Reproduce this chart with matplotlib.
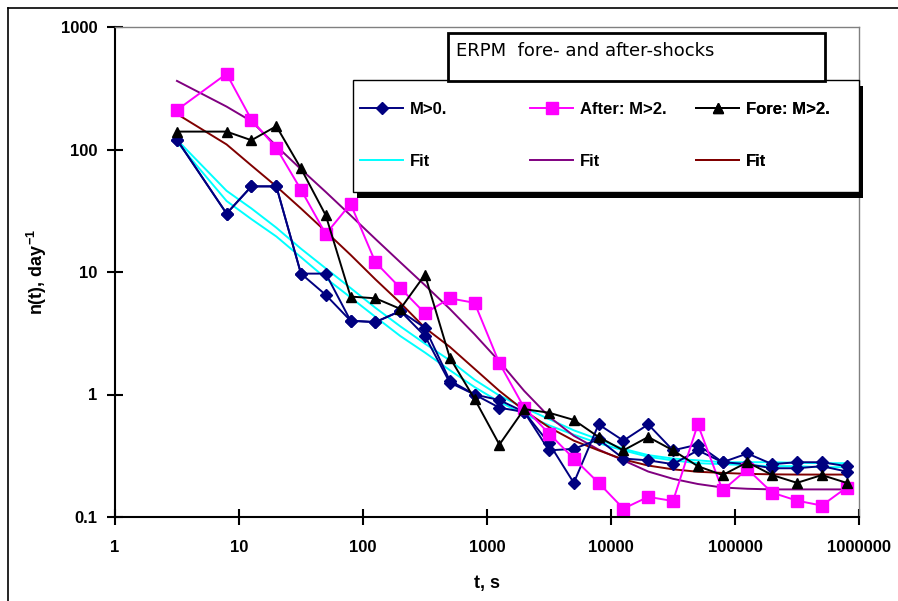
import matplotlib
matplotlib.use("Agg")
import matplotlib.pyplot as plt
from matplotlib.lines import Line2D
from matplotlib.patches import Rectangle
from matplotlib.ticker import FixedLocator, FixedFormatter, NullLocator

plt.rcParams["font.family"] = ["Liberation Sans", "DejaVu Sans"]
plt.rcParams["mathtext.default"] = "regular"

# time bins, s
t = [3.16, 7.94, 12.6, 20.0, 31.6, 50.1, 79.4, 126, 200, 316, 501, 794, 1259, 1995,
     3162, 5012, 7943, 12589, 19953, 31623, 50119, 79433, 125893, 199526, 316228,
     501187, 794328]

# M>0. (two catalogue runs drawn with the same style)
m0_a = [120, 30, 50, 50, 9.7, 9.7, 4.0, 3.9, 4.8, 3.5, 1.3, 1.0, 0.9, 0.72,
        0.40, 0.19, 0.57, 0.42, 0.57, 0.35, 0.39, 0.28, 0.33, 0.27, 0.28, 0.28, 0.26]
m0_b = [120, 30, 50, 50, 9.7, 6.5, 4.0, 3.9, 4.8, 3.0, 1.25, 1.0, 0.78, 0.72,
        0.35, 0.36, 0.43, 0.30, 0.29, 0.27, 0.35, 0.28, 0.27, 0.25, 0.25, 0.26, 0.235]
after = [210, 415, 175, 103, 47, 20.4, 36, 12, 7.4, 4.6, 6.1, 5.6, 1.8, 0.78,
         0.48, 0.30, 0.19, 0.117, 0.146, 0.135, 0.57, 0.165, 0.246, 0.158, 0.136, 0.124, 0.174]
fore = [140, 140, 119, 155, 70, 29, 6.3, 6.1, 5.0, 9.5, 2.0, 0.92, 0.39, 0.76,
        0.71, 0.62, 0.45, 0.35, 0.45, 0.35, 0.26, 0.22, 0.28, 0.22, 0.19, 0.22, 0.19]

# fits
fit_m0_a = [120, 46, 33, 23, 15.5, 10.7, 7.4, 5.1, 3.6, 2.6, 1.9, 1.32, 0.98, 0.78,
            0.63, 0.51, 0.43, 0.36, 0.32, 0.30, 0.29, 0.28, 0.28, 0.28, 0.277, 0.275, 0.275]
fit_m0_b = [115, 38, 27, 19.5, 13.2, 8.9, 6.2, 4.3, 3.0, 2.2, 1.58, 1.15, 0.87, 0.69,
            0.56, 0.47, 0.40, 0.35, 0.31, 0.29, 0.275, 0.27, 0.265, 0.26, 0.26, 0.255, 0.255]
fit_after = [363, 224, 170, 107, 69, 45, 29, 18.6, 12.0, 7.8, 5.0, 3.1, 1.86, 1.07,
             0.66, 0.46, 0.355, 0.29, 0.235, 0.205, 0.186, 0.174, 0.17, 0.168, 0.168, 0.168, 0.168]
fit_fore = [195, 110, 74, 50, 33, 21.4, 13.8, 8.7, 5.6, 3.5, 2.45, 1.62, 1.07, 0.74,
            0.54, 0.42, 0.35, 0.295, 0.263, 0.245, 0.234, 0.229, 0.225, 0.223, 0.222, 0.222, 0.222]

x_ticks = [1, 10, 100, 1000, 10000, 100000, 1000000]
y_ticks = [0.1, 1, 10, 100, 1000]
y_tick_labels = ["0.1", "1", "10", "100", "1000"]

NAVY, MAGENTA, CYAN, PURPLE, BROWN = "#000080", "#FF00FF", "#00FFFF", "#800080", "#800000"
lw = 1.4
style_m0 = dict(color=NAVY, lw=lw, marker="D", ms=6)
style_after = dict(color=MAGENTA, lw=lw, marker="s", ms=8.5)
style_fore = dict(color="black", lw=lw, marker="^", ms=7.5)

fig = plt.figure(figsize=(8.98, 6.01), dpi=100)
ax = fig.add_axes([115 / 898, 84 / 601, 744 / 898, 490 / 601])

ax.plot(t, fit_m0_a, color=CYAN, lw=lw)
ax.plot(t, fit_m0_b, color=CYAN, lw=lw)
ax.plot(t, fit_after, color=PURPLE, lw=lw)
ax.plot(t, fit_fore, color=BROWN, lw=lw)
ax.plot(t, m0_b, **style_m0)
ax.plot(t, m0_a, **style_m0)
ax.plot(t, after, **style_after)
ax.plot(t, fore, **style_fore)

ax.set_xscale("log")
ax.set_yscale("log")
ax.set_xlim(1, 1e6)
ax.set_ylim(0.1, 1000)
ax.xaxis.set_major_locator(FixedLocator(x_ticks))
ax.xaxis.set_major_formatter(FixedFormatter([str(v) for v in x_ticks]))
ax.yaxis.set_major_locator(FixedLocator(y_ticks))
ax.yaxis.set_major_formatter(FixedFormatter(y_tick_labels))
ax.xaxis.set_minor_locator(NullLocator())
ax.yaxis.set_minor_locator(NullLocator())
ax.tick_params(direction="inout", length=11, width=1.5, labelsize=12)
ax.tick_params(axis="x", pad=11)
ax.tick_params(axis="y", pad=7)
for lab in ax.get_xticklabels() + ax.get_yticklabels():
    lab.set_fontweight("bold")

for side in ("left", "bottom"):
    ax.spines[side].set_linewidth(1.5)
for side in ("top", "right"):
    ax.spines[side].set_color("#808080")
    ax.spines[side].set_linewidth(1.0)

ax.set_xlabel("t, s", fontsize=13, fontweight="bold", va="center")
ax.set_ylabel("n(t), day$^{-1}$", fontsize=13, fontweight="bold", va="center")
ax.xaxis.set_label_coords(0.5, -0.135)
ax.yaxis.set_label_coords(-0.105, 0.5)

# legend frame with a solid shadow
x0, y0, w, h = 0.32, 0.663, 0.68, 0.2286
ax.add_patch(Rectangle((x0 + 4 / 744, y0 - 6 / 490), w, h, transform=ax.transAxes,
                       facecolor="black", edgecolor="black", lw=0, zorder=5,
                       clip_on=False))
ax.add_patch(Rectangle((x0, y0), w, h, transform=ax.transAxes, facecolor="white",
                       edgecolor="black", lw=1.0, zorder=5.5, clip_on=False))

# one legend per column: series on top, fit below
columns = [
    ([Line2D([], [], **style_m0), Line2D([], [], color=CYAN, lw=lw)], ["M>0.", "Fit"], 0.3293),
    ([Line2D([], [], **style_after), Line2D([], [], color=PURPLE, lw=lw)], ["After: M>2.", "Fit"], 0.5578),
    ([Line2D([], [], **style_fore), Line2D([], [], color=BROWN, lw=lw)], ["Fore: M>2.", "Fit"], 0.781),
]
for hnd, lbl, xc in columns:
    leg = ax.legend(hnd, lbl, loc="upper left", bbox_to_anchor=(xc, 0.847),
                    frameon=False, borderpad=0, borderaxespad=0,
                    prop={"weight": "bold", "size": 12}, handlelength=2.6,
                    handletextpad=0.4, labelspacing=2.2)
    leg.set_zorder(6)
    ax.add_artist(leg)

# title box
ax.add_patch(Rectangle((0.4476, 0.890), 0.5064, 0.098, transform=ax.transAxes,
                       facecolor="white", edgecolor="black", lw=2, zorder=6,
                       clip_on=False))
ax.text(0.459, 0.950, "ERPM  fore- and after-shocks", transform=ax.transAxes,
        fontsize=13, family=["DejaVu Sans"], va="center", ha="left", zorder=7)

# chart area border
fig.add_artist(Line2D([8 / 898, 8 / 898], [0, 1 - 8 / 601], color="black", lw=1.2))
fig.add_artist(Line2D([8 / 898, 1], [1 - 8 / 601, 1 - 8 / 601], color="black", lw=1.2))

fig.savefig("out.png", dpi=100)
